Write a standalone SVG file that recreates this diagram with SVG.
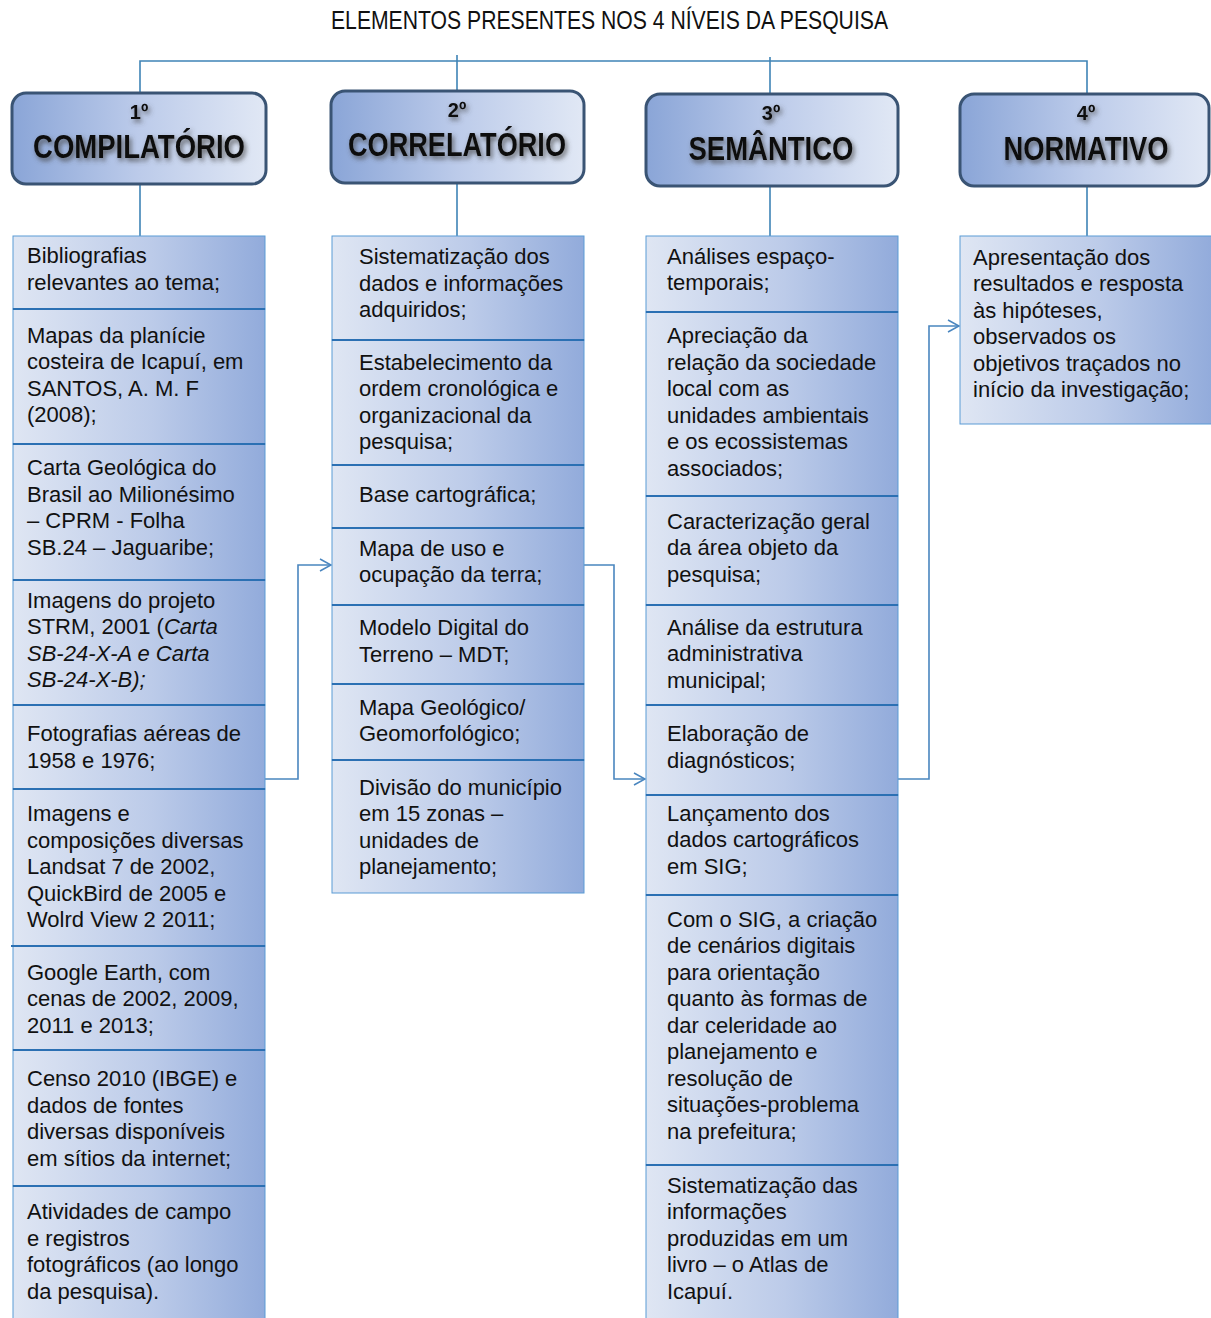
<svg xmlns="http://www.w3.org/2000/svg" width="1211" height="1318" viewBox="0 0 1211 1318">
<defs>
<linearGradient id="cellGrad" x1="0" y1="0" x2="1" y2="0">
<stop offset="0" stop-color="#dfe6f3"/>
<stop offset="0.55" stop-color="#bccbe9"/>
<stop offset="1" stop-color="#92abdb"/>
</linearGradient>
<linearGradient id="headGrad" x1="0" y1="0" x2="1" y2="0">
<stop offset="0" stop-color="#8aa5d7"/>
<stop offset="0.5" stop-color="#bccbea"/>
<stop offset="1" stop-color="#e1e8f5"/>
</linearGradient>
<filter id="shadow" x="-10%" y="-30%" width="120%" height="170%">
<feDropShadow dx="2" dy="3" stdDeviation="2.5" flood-color="#444" flood-opacity="0.8"/>
</filter>
<marker id="arrow" markerWidth="14" markerHeight="14" refX="12" refY="7" orient="auto" markerUnits="userSpaceOnUse">
<path d="M1,1 L12,7 L1,13" fill="none" stroke="#4a86bf" stroke-width="1.5"/>
</marker>
</defs>
<style>
.title{font-family:"Liberation Sans Narrow","Liberation Sans",Arial,sans-serif;font-size:25px;fill:#111}
.ord{font-family:"Liberation Sans Narrow","Liberation Sans",Arial,sans-serif;font-weight:bold;font-size:20px;fill:#111;text-anchor:middle}
.head{font-family:"Liberation Sans Narrow","Liberation Sans",Arial,sans-serif;font-weight:bold;font-size:34px;fill:#111;text-anchor:middle}
.hbox{fill:url(#headGrad);stroke:#3a5474;stroke-width:3}
.cell{fill:url(#cellGrad);stroke:#5b9bd5;stroke-width:1}
.div{stroke:#2b70b3;stroke-width:2}
.t{font-family:"Liberation Sans",Arial,sans-serif;font-size:22px;fill:#111}
.conn{fill:none;stroke:#4a86bf;stroke-width:1.6}
.tree{fill:none;stroke:#3f84b6;stroke-width:1.6}
</style>
<rect width="1211" height="1318" fill="#fff"/>
<text class="title" x="331" y="29" textLength="557" lengthAdjust="spacingAndGlyphs">ELEMENTOS PRESENTES NOS 4 NÍVEIS DA PESQUISA</text>

<g id="connectors">
<path class="tree" d="M140,93 V61 H1087 V95 M457,55 V92 M770,57 V95"/>
<path class="tree" d="M140,184 V236 M457,170 V236 M770,186 V236 M1087,186 V236"/>
<path class="conn" d="M265,779 H298 V565 H331" marker-end="url(#arrow)"/>
<path class="conn" d="M584,565 H614 V779 H645" marker-end="url(#arrow)"/>
<path class="conn" d="M898,779 H929 V326 H959" marker-end="url(#arrow)"/>
</g>

<g id="h1"><rect class="hbox" x="12" y="93" width="254" height="91" rx="14"/>
<g filter="url(#shadow)"><text class="ord" x="139" y="119">1º</text><text class="head" x="139" y="158" textLength="212" lengthAdjust="spacingAndGlyphs">COMPILATÓRIO</text></g></g>
<g id="h2"><rect class="hbox" x="331" y="91" width="253" height="92" rx="14"/>
<g filter="url(#shadow)"><text class="ord" x="457" y="117">2º</text><text class="head" x="457" y="156" textLength="218" lengthAdjust="spacingAndGlyphs">CORRELATÓRIO</text></g></g>
<g id="h3"><rect class="hbox" x="646" y="94" width="252" height="92" rx="14"/>
<g filter="url(#shadow)"><text class="ord" x="771" y="120">3º</text><text class="head" x="771" y="160" textLength="165" lengthAdjust="spacingAndGlyphs">SEMÂNTICO</text></g></g>
<g id="h4"><rect class="hbox" x="960" y="94" width="249" height="92" rx="14"/>
<g filter="url(#shadow)"><text class="ord" x="1086" y="120">4º</text><text class="head" x="1086" y="160" textLength="165" lengthAdjust="spacingAndGlyphs">NORMATIVO</text></g></g>

<!-- Column 1 -->
<g id="c1-1"><rect class="cell" x="13" y="236" width="252" height="73"/>
<text class="t"><tspan x="27" y="263">Bibliografias</tspan><tspan x="27" y="290">relevantes ao tema;</tspan></text></g>
<g id="c1-2"><rect class="cell" x="13" y="309" width="252" height="135"/>
<text class="t"><tspan x="27" y="343">Mapas da planície</tspan><tspan x="27" y="369">costeira de Icapuí, em</tspan><tspan x="27" y="396">SANTOS, A. M. F</tspan><tspan x="27" y="422">(2008);</tspan></text></g>
<g id="c1-3"><rect class="cell" x="13" y="444" width="252" height="136"/>
<text class="t"><tspan x="27" y="475">Carta Geológica do</tspan><tspan x="27" y="502">Brasil ao Milionésimo</tspan><tspan x="27" y="528">– CPRM - Folha</tspan><tspan x="27" y="555">SB.24 – Jaguaribe;</tspan></text></g>
<g id="c1-4"><rect class="cell" x="13" y="580" width="252" height="125"/>
<text class="t"><tspan x="27" y="608">Imagens do projeto</tspan><tspan x="27" y="634">STRM, 2001 (<tspan font-style="italic">Carta</tspan></tspan><tspan x="27" y="661" font-style="italic">SB-24-X-A e Carta</tspan><tspan x="27" y="687" font-style="italic">SB-24-X-B);</tspan></text></g>
<g id="c1-5"><rect class="cell" x="13" y="705" width="252" height="84"/>
<text class="t"><tspan x="27" y="741">Fotografias aéreas de</tspan><tspan x="27" y="768">1958 e 1976;</tspan></text></g>
<g id="c1-6"><rect class="cell" x="13" y="789" width="252" height="157"/>
<text class="t"><tspan x="27" y="821">Imagens e</tspan><tspan x="27" y="848">composições diversas</tspan><tspan x="27" y="874">Landsat 7 de 2002,</tspan><tspan x="27" y="901">QuickBird de 2005 e</tspan><tspan x="27" y="927">Wolrd View 2 2011;</tspan></text></g>
<g id="c1-7"><rect class="cell" x="13" y="946" width="252" height="104"/>
<text class="t"><tspan x="27" y="980">Google Earth, com</tspan><tspan x="27" y="1006">cenas de 2002, 2009,</tspan><tspan x="27" y="1033">2011 e 2013;</tspan></text></g>
<g id="c1-8"><rect class="cell" x="13" y="1050" width="252" height="136"/>
<text class="t"><tspan x="27" y="1086">Censo 2010 (IBGE) e</tspan><tspan x="27" y="1113">dados de fontes</tspan><tspan x="27" y="1139">diversas disponíveis</tspan><tspan x="27" y="1166">em sítios da internet;</tspan></text></g>
<g id="c1-9"><rect class="cell" x="13" y="1186" width="252" height="140"/>
<text class="t"><tspan x="27" y="1219">Atividades de campo</tspan><tspan x="27" y="1246">e registros</tspan><tspan x="27" y="1272">fotográficos (ao longo</tspan><tspan x="27" y="1299">da pesquisa).</tspan></text></g>
<path class="div" d="M13,309 H265 M13,444 H265 M13,580 H265 M13,705 H265 M13,789 H265 M11,946 H265 M13,1050 H265 M13,1186 H265"/>

<!-- Column 2 -->
<g id="c2-1"><rect class="cell" x="332" y="236" width="252" height="104"/>
<text class="t"><tspan x="359" y="264">Sistematização dos</tspan><tspan x="359" y="291">dados e informações</tspan><tspan x="359" y="317">adquiridos;</tspan></text></g>
<g id="c2-2"><rect class="cell" x="332" y="340" width="252" height="125"/>
<text class="t"><tspan x="359" y="370">Estabelecimento da</tspan><tspan x="359" y="396">ordem cronológica e</tspan><tspan x="359" y="423">organizacional da</tspan><tspan x="359" y="449">pesquisa;</tspan></text></g>
<g id="c2-3"><rect class="cell" x="332" y="465" width="252" height="63"/>
<text class="t"><tspan x="359" y="502">Base cartográfica;</tspan></text></g>
<g id="c2-4"><rect class="cell" x="332" y="528" width="252" height="77"/>
<text class="t"><tspan x="359" y="556">Mapa de uso e</tspan><tspan x="359" y="582">ocupação da terra;</tspan></text></g>
<g id="c2-5"><rect class="cell" x="332" y="605" width="252" height="79"/>
<text class="t"><tspan x="359" y="635">Modelo Digital do</tspan><tspan x="359" y="662">Terreno – MDT;</tspan></text></g>
<g id="c2-6"><rect class="cell" x="332" y="684" width="252" height="76"/>
<text class="t"><tspan x="359" y="715">Mapa Geológico/</tspan><tspan x="359" y="741">Geomorfológico;</tspan></text></g>
<g id="c2-7"><rect class="cell" x="332" y="760" width="252" height="133"/>
<text class="t"><tspan x="359" y="795">Divisão do município</tspan><tspan x="359" y="821">em 15 zonas –</tspan><tspan x="359" y="848">unidades de</tspan><tspan x="359" y="874">planejamento;</tspan></text></g>
<path class="div" d="M332,340 H584 M332,465 H584 M332,528 H584 M332,605 H584 M332,684 H584 M332,760 H584"/>

<!-- Column 3 -->
<g id="c3-1"><rect class="cell" x="646" y="236" width="252" height="76"/>
<text class="t"><tspan x="667" y="264">Análises espaço-</tspan><tspan x="667" y="290">temporais;</tspan></text></g>
<g id="c3-2"><rect class="cell" x="646" y="312" width="252" height="184"/>
<text class="t"><tspan x="667" y="343">Apreciação da</tspan><tspan x="667" y="370">relação da sociedade</tspan><tspan x="667" y="396">local com as</tspan><tspan x="667" y="423">unidades ambientais</tspan><tspan x="667" y="449">e os ecossistemas</tspan><tspan x="667" y="476">associados;</tspan></text></g>
<g id="c3-3"><rect class="cell" x="646" y="496" width="252" height="109"/>
<text class="t"><tspan x="667" y="529">Caracterização geral</tspan><tspan x="667" y="555">da área objeto da</tspan><tspan x="667" y="582">pesquisa;</tspan></text></g>
<g id="c3-4"><rect class="cell" x="646" y="605" width="252" height="100"/>
<text class="t"><tspan x="667" y="635">Análise da estrutura</tspan><tspan x="667" y="661">administrativa</tspan><tspan x="667" y="688">municipal;</tspan></text></g>
<g id="c3-5"><rect class="cell" x="646" y="705" width="252" height="90"/>
<text class="t"><tspan x="667" y="741">Elaboração de</tspan><tspan x="667" y="768">diagnósticos;</tspan></text></g>
<g id="c3-6"><rect class="cell" x="646" y="795" width="252" height="100"/>
<text class="t"><tspan x="667" y="821">Lançamento dos</tspan><tspan x="667" y="847">dados cartográficos</tspan><tspan x="667" y="874">em SIG;</tspan></text></g>
<g id="c3-7"><rect class="cell" x="646" y="895" width="252" height="270"/>
<text class="t"><tspan x="667" y="927">Com o SIG, a criação</tspan><tspan x="667" y="953">de cenários digitais</tspan><tspan x="667" y="980">para orientação</tspan><tspan x="667" y="1006">quanto às formas de</tspan><tspan x="667" y="1033">dar celeridade ao</tspan><tspan x="667" y="1059">planejamento e</tspan><tspan x="667" y="1086">resolução de</tspan><tspan x="667" y="1112">situações-problema</tspan><tspan x="667" y="1139">na prefeitura;</tspan></text></g>
<g id="c3-8"><rect class="cell" x="646" y="1165" width="252" height="160"/>
<text class="t"><tspan x="667" y="1193">Sistematização das</tspan><tspan x="667" y="1219">informações</tspan><tspan x="667" y="1246">produzidas em um</tspan><tspan x="667" y="1272">livro – o Atlas de</tspan><tspan x="667" y="1299">Icapuí.</tspan></text></g>
<path class="div" d="M646,312 H898 M646,496 H898 M646,605 H898 M646,705 H898 M646,795 H898 M646,895 H898 M646,1165 H898"/>

<!-- Column 4 -->
<g id="c4-1"><rect class="cell" x="960" y="236" width="253" height="188"/>
<text class="t"><tspan x="973" y="265">Apresentação dos</tspan><tspan x="973" y="291">resultados e resposta</tspan><tspan x="973" y="318">às hipóteses,</tspan><tspan x="973" y="344">observados os</tspan><tspan x="973" y="371">objetivos traçados no</tspan><tspan x="973" y="397">início da investigação;</tspan></text></g>
</svg>
